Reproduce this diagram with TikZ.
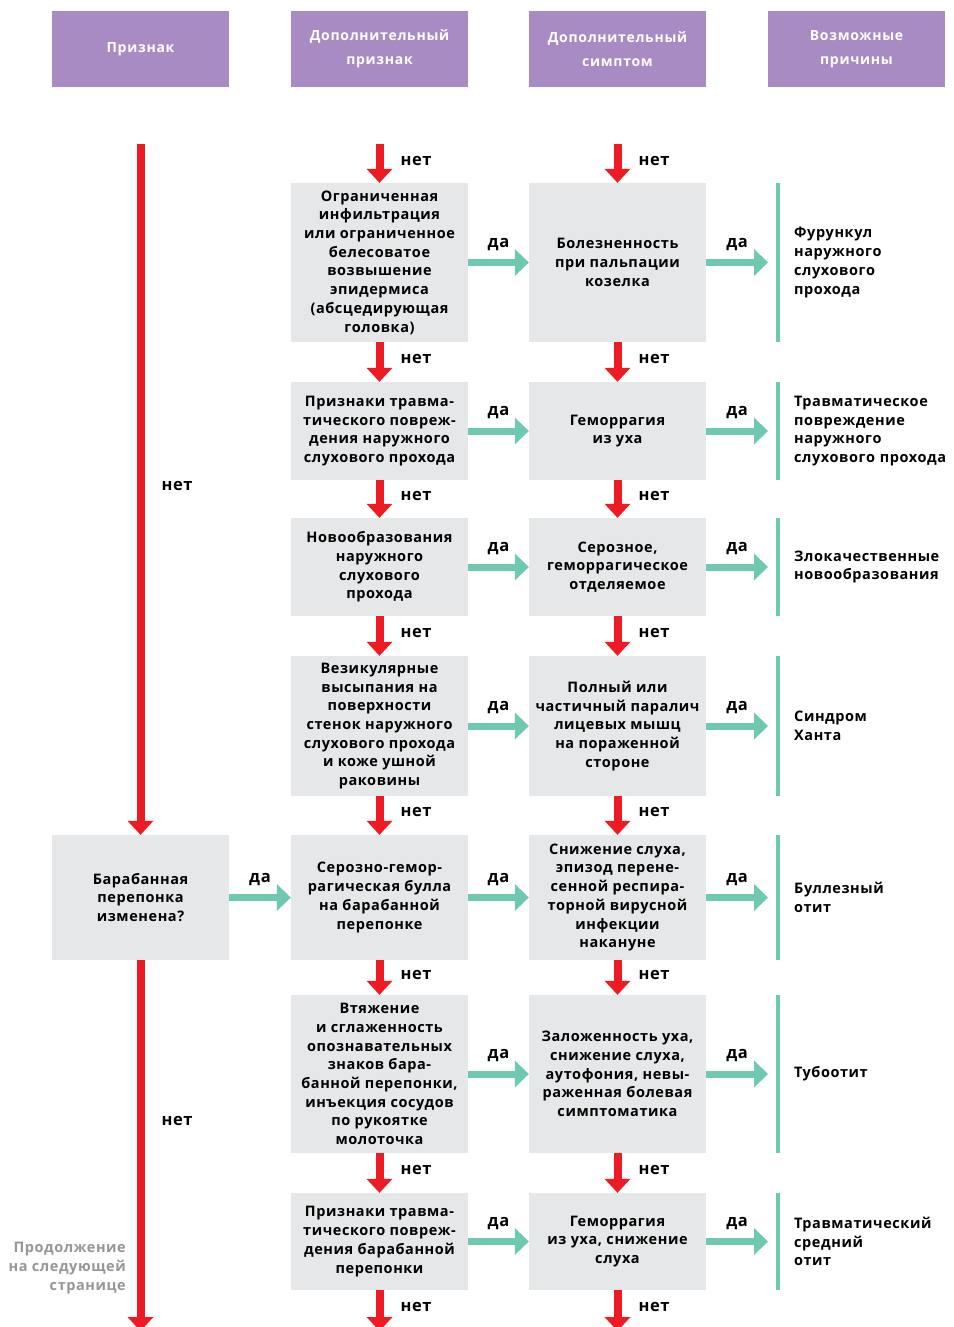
\documentclass[tikz,border=0pt]{standalone}
\usepackage{fontspec}
\setmainfont{Open Sans}[LetterSpace=4]
\usetikzlibrary{arrows.meta}
\definecolor{hdr}{RGB}{167,139,194}
\definecolor{boxg}{RGB}{230,231,232}
\definecolor{rd}{RGB}{237,28,36}
\definecolor{gr}{RGB}{110,201,176}
\definecolor{gtxt}{RGB}{150,150,150}
\newcommand\btxt{\bfseries\fontsize{14.5}{18.7}\selectfont}
\newcommand\htxt{\bfseries\fontsize{14}{24}\selectfont\addfontfeature{LetterSpace=5}}
\newcommand\ltxt{\bfseries\fontsize{16.5}{18}\selectfont}
\begin{document}
\begin{tikzpicture}[x=1pt,y=-1pt,
  hbox/.style={fill=hdr,text=white,minimum width=177pt,minimum height=76pt,inner sep=0pt,align=center,font=\htxt},
  gbox/.style={fill=boxg,minimum width=177pt,inner sep=0pt,align=center,font=\btxt},
  res/.style={anchor=west,inner xsep=16pt,inner ysep=0pt,align=left,font=\btxt,text width=170pt},
  gbar/.style={draw=gr,line width=4pt},
  rarrow/.style={draw=rd,line width=8pt,-{Triangle[width=26pt,length=14pt,line width=0pt]}},
  garrow/.style={draw=gr,line width=7pt,-{Triangle[width=27pt,length=14pt,line width=0pt]}},
  no/.style={font=\ltxt,inner sep=0pt,anchor=west,xshift=17pt},
  yes/.style={font=\ltxt,inner sep=0pt,midway,yshift=18pt}
]
\useasboundingbox (0,0) rectangle (953,1327);
\clip (0,0) rectangle (953,1327);

% headers
\node[hbox] (h1) at (140.5,49) {Признак};
\node[hbox] (h2) at (379.5,49) {Дополнительный\\признак};
\node[hbox] (h3) at (617.5,49) {Дополнительный\\симптом};
\node[hbox] (h4) at (856.5,49) {Возможные\\причины};

% column 1
\node[gbox,minimum height=125pt] (a5) at (140.5,897.5) {Барабанная\\перепонка\\изменена?};

% column 2
\node[gbox,minimum height=159pt] (b1) at (379.5,262.5) {Ограниченная\\инфильтрация\\или ограниченное\\белесоватое\\возвышение\\эпидермиса\\(абсцедирующая\\головка)};
\node[gbox,minimum height=98pt] (b2) at (379.5,431) {Признаки травма-\\тического повреж-\\дения наружного\\слухового прохода};
\node[gbox,minimum height=98pt] (b3) at (379.5,567) {Новообразования\\наружного\\слухового\\прохода};
\node[gbox,minimum height=140pt] (b4) at (379.5,726) {Везикулярные\\высыпания на\\поверхности\\стенок наружного\\слухового прохода\\и коже ушной\\раковины};
\node[gbox,minimum height=125pt] (b5) at (379.5,897.5) {Серозно-гемор-\\рагическая булла\\на барабанной\\перепонке};
\node[gbox,minimum height=158pt] (b6) at (379.5,1074) {Втяжение\\и сглаженность\\опознавательных\\знаков бара-\\банной перепонки,\\инъекция сосудов\\по рукоятке\\молоточка};
\node[gbox,minimum height=97pt] (b7) at (379.5,1241.5) {Признаки травма-\\тического повреж-\\дения барабанной\\перепонки};

% column 3
\node[gbox,minimum height=159pt] (c1) at (617.5,262.5) {Болезненность\\при пальпации\\козелка};
\node[gbox,minimum height=98pt] (c2) at (617.5,431) {Геморрагия\\из уха};
\node[gbox,minimum height=98pt] (c3) at (617.5,567) {Серозное,\\геморрагическое\\отделяемое};
\node[gbox,minimum height=140pt] (c4) at (617.5,726) {Полный или\\частичный паралич\\лицевых мышц\\на пораженной\\стороне};
\node[gbox,minimum height=125pt] (c5) at (617.5,897.5) {Снижение слуха,\\эпизод перене-\\сенной респира-\\торной вирусной\\инфекции\\накануне};
\node[gbox,minimum height=158pt] (c6) at (617.5,1074) {Заложенность уха,\\снижение слуха,\\аутофония, невы-\\раженная болевая\\симптоматика};
\node[gbox,minimum height=97pt] (c7) at (617.5,1241.5) {Геморрагия\\из уха, снижение\\слуха};

% column 4 (causes)
\node[res,minimum height=159pt] (d1) at (778,262.5) {Фурункул\\наружного\\слухового\\прохода};
\node[res,minimum height=98pt] (d2) at (778,431) {Травматическое\\повреждение\\наружного\\слухового прохода};
\node[res,minimum height=98pt] (d3) at (778,567) {Злокачественные\\новообразования};
\node[res,minimum height=140pt] (d4) at (778,726) {Синдром\\Ханта};
\node[res,minimum height=125pt] (d5) at (778,897.5) {Буллезный\\отит};
\node[res,minimum height=158pt] (d6) at (778,1074) {Тубоотит};
\node[res,minimum height=97pt] (d7) at (778,1241.5) {Травматический\\средний\\отит};
\foreach \i in {1,...,7} {\draw[gbar] (d\i.north west) -- (d\i.south west);}

% continuation note
\node[font=\btxt,text=gtxt,align=right,anchor=east,inner sep=0pt] (cont) at (126,1268) {Продолжение\\на следующей\\странице};

% free ends
\coordinate (ta) at (140.5,144);
\coordinate (tb) at (379.5,144);
\coordinate (tc) at (617.5,144);
\coordinate (ea) at (140.5,1331);
\coordinate (eb) at (379.5,1331);
\coordinate (ec) at (617.5,1331);

% red "нет" arrows
\draw[rarrow] (ta) -- node[no,pos=0.495] {нет} (a5.north);
\draw[rarrow] (a5.south) -- node[no,pos=0.434] {нет} (ea);
\draw[rarrow] (tb) -- node[no,pos=0.43] {нет} (b1.north);
\draw[rarrow] (b1.south) -- node[no,pos=0.42] {нет} (b2.north);
\draw[rarrow] (b2.south) -- node[no,pos=0.42] {нет} (b3.north);
\draw[rarrow] (b3.south) -- node[no,pos=0.42] {нет} (b4.north);
\draw[rarrow] (b4.south) -- node[no,pos=0.42] {нет} (b5.north);
\draw[rarrow] (b5.south) -- node[no,pos=0.42] {нет} (b6.north);
\draw[rarrow] (b6.south) -- node[no,pos=0.42] {нет} (b7.north);
\draw[rarrow] (b7.south) -- node[no,pos=0.42] {нет} (eb);
\draw[rarrow] (tc) -- node[no,pos=0.43] {нет} (c1.north);
\draw[rarrow] (c1.south) -- node[no,pos=0.42] {нет} (c2.north);
\draw[rarrow] (c2.south) -- node[no,pos=0.42] {нет} (c3.north);
\draw[rarrow] (c3.south) -- node[no,pos=0.42] {нет} (c4.north);
\draw[rarrow] (c4.south) -- node[no,pos=0.42] {нет} (c5.north);
\draw[rarrow] (c5.south) -- node[no,pos=0.42] {нет} (c6.north);
\draw[rarrow] (c6.south) -- node[no,pos=0.42] {нет} (c7.north);
\draw[rarrow] (c7.south) -- node[no,pos=0.42] {нет} (ec);

% green "да" arrows
\draw[garrow] (a5.east) -- node[yes] {да} (b5.west);
\foreach \i in {1,...,7} {
  \draw[garrow] (b\i.east) -- node[yes] {да} (c\i.west);
  \draw[garrow] (c\i.east) -- node[yes] {да} ([xshift=-10pt]d\i.west);
}
\end{tikzpicture}
\end{document}
